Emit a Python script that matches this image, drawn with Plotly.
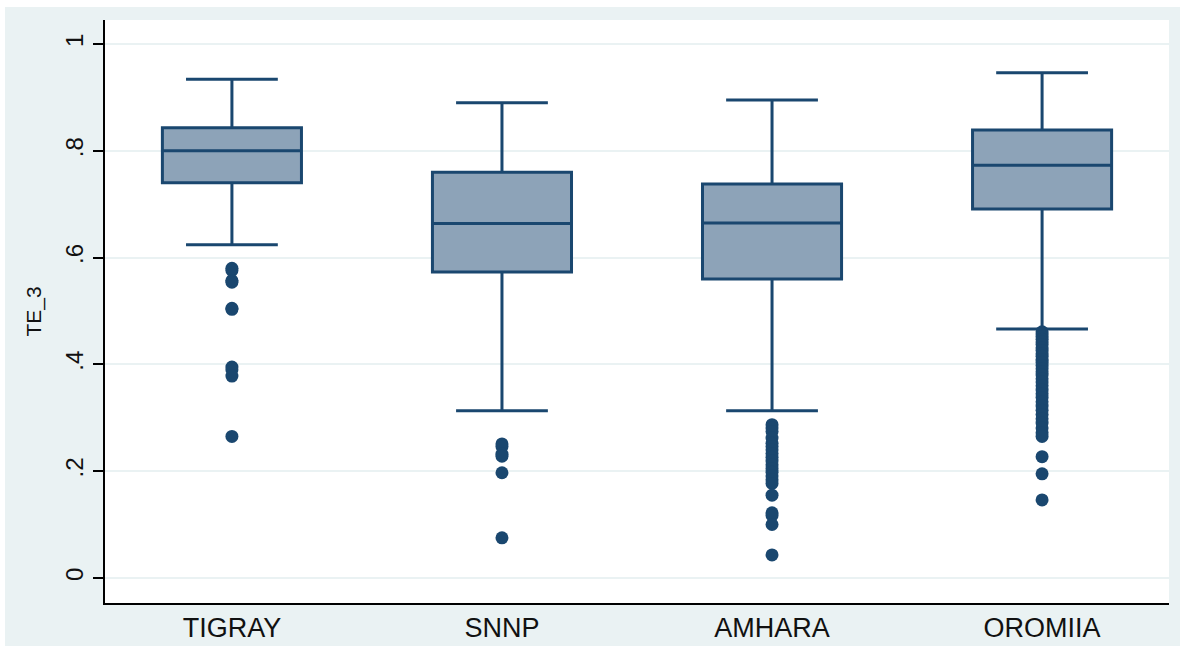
import plotly.graph_objects as go

regions = ["TIGRAY", "SNNP", "AMHARA", "OROMIIA"]
q1 = [0.740, 0.573, 0.560, 0.691]
median = [0.800, 0.664, 0.665, 0.773]
q3 = [0.843, 0.760, 0.738, 0.839]
lower_whisker = [0.624, 0.313, 0.313, 0.466]
upper_whisker = [0.934, 0.890, 0.895, 0.946]

out_tigray = [0.580, 0.576, 0.557, 0.554, 0.505, 0.503, 0.395, 0.390, 0.378, 0.265]
out_snnp = [0.251, 0.246, 0.232, 0.228, 0.197, 0.075]
out_amhara = [0.287, 0.281, 0.274, 0.262, 0.252, 0.246, 0.240, 0.233, 0.226, 0.219,
              0.212, 0.205, 0.198, 0.191, 0.184, 0.177, 0.155, 0.122, 0.117, 0.100, 0.043]
out_oromiia = [0.461, 0.457, 0.452, 0.447, 0.442, 0.437, 0.431, 0.426, 0.420, 0.415,
               0.409, 0.404, 0.398, 0.392, 0.386, 0.380, 0.373, 0.367, 0.360, 0.352,
               0.345, 0.338, 0.330, 0.322, 0.314, 0.306, 0.298, 0.290, 0.281, 0.272,
               0.265, 0.227, 0.195, 0.146]
outliers = [out_tigray, out_snnp, out_amhara, out_oromiia]

navy = "#1A476F"
box_fill = "#8DA3B8"
bg = "#EAF2F3"
font = "Liberation Sans, Arial, sans-serif"

fig = go.Figure()
fig.add_trace(go.Box(
    x=regions, q1=q1, median=median, q3=q3,
    lowerfence=lower_whisker, upperfence=upper_whisker,
    width=0.515, whiskerwidth=0.66,
    fillcolor=box_fill, line=dict(color=navy, width=3),
    boxpoints=False, showlegend=False, hoverinfo="skip",
))
for reg, vals in zip(regions, outliers):
    fig.add_trace(go.Scatter(
        x=[reg] * len(vals), y=vals, mode="markers",
        marker=dict(color=navy, size=13, symbol="circle", line=dict(width=0)),
        showlegend=False, hoverinfo="skip",
    ))

W, H = 1180, 646
L, R, T, B = 105, 11, 20, 43
pw, ph = W - L - R, H - T - B


def px_x(p):
    return (p - L) / pw


def px_y(p):
    return (H - B - p) / ph


# thin white border at the left and top of the figure
fig.add_shape(type="rect", xref="paper", yref="paper",
              x0=px_x(-2), x1=px_x(5), y0=px_y(650), y1=px_y(-2),
              fillcolor="white", line=dict(width=0), layer="below")
fig.add_shape(type="rect", xref="paper", yref="paper",
              x0=px_x(-2), x1=px_x(1182), y0=px_y(7), y1=px_y(-2),
              fillcolor="white", line=dict(width=0), layer="below")

fig.update_layout(
    width=W, height=H,
    margin=dict(l=L, r=R, t=T, b=B, pad=0, autoexpand=False),
    paper_bgcolor=bg, plot_bgcolor="white",
    font=dict(family=font, color="#111111"),
    xaxis=dict(
        type="category", range=[-0.47, 3.47],
        showgrid=False, zeroline=False, automargin=False,
        showline=True, linecolor="black", linewidth=2,
        ticks="", tickfont=dict(size=27, color="#111111"),
        fixedrange=True,
    ),
    yaxis=dict(
        range=[-0.047, 1.045], automargin=False,
        tickvals=[0, 0.2, 0.4, 0.6, 0.8, 1.0],
        ticktext=["0", ".2", ".4", ".6", ".8", "1"],
        tickangle=-90, tickfont=dict(size=24, color="#111111"),
        ticks="outside", ticklen=10, tickwidth=2, tickcolor="black",
        showline=True, linecolor="black", linewidth=2,
        showgrid=True, gridcolor=bg, gridwidth=2,
        zeroline=False,
        title=dict(text="TE_3", font=dict(size=21, color="#111111"), standoff=14),
        fixedrange=True,
    ),
)

fig.write_html(
    "out.html",
    config={"displayModeBar": False},
    post_script="document.body.style.margin='0';document.body.style.overflow='hidden';",
)
